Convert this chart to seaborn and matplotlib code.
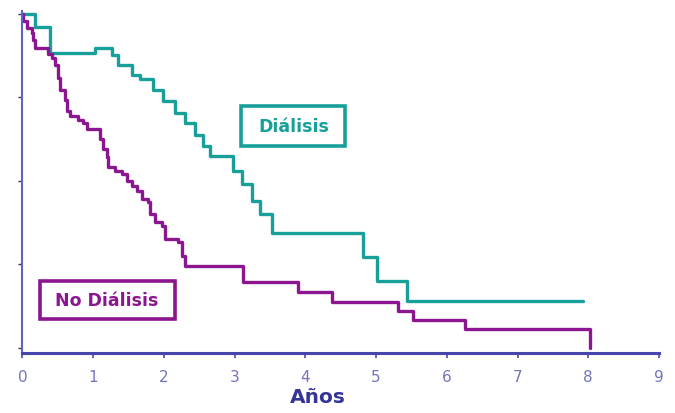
import matplotlib
matplotlib.use("Agg")
import matplotlib.pyplot as plt
import matplotlib.patches as mpatches
import seaborn as sns
import pandas as pd

# Kaplan-Meier style curves (years, survival fraction)
dialisis_t = [0.0, 0.18, 0.39, 1.02, 1.27, 1.35, 1.55, 1.66, 1.85, 1.99, 2.16, 2.30,
              2.44, 2.55, 2.65, 2.98, 3.10, 3.25, 3.36, 3.53, 4.82, 5.01, 5.44, 7.93]
dialisis_s = [1.0, 0.962, 0.882, 0.897, 0.876, 0.846, 0.816, 0.804, 0.771, 0.738, 0.702, 0.672,
              0.639, 0.606, 0.576, 0.531, 0.492, 0.441, 0.402, 0.345, 0.273, 0.201, 0.141, 0.141]

no_dialisis_t = [0.0, 0.01, 0.06, 0.13, 0.15, 0.18, 0.36, 0.42, 0.46, 0.50, 0.53, 0.60,
                 0.63, 0.67, 0.79, 0.86, 0.91, 1.10, 1.14, 1.20, 1.21, 1.31, 1.41, 1.48,
                 1.55, 1.62, 1.69, 1.78, 1.80, 1.87, 1.97, 2.02, 2.20, 2.26, 2.30, 3.12,
                 3.90, 4.38, 5.31, 5.52, 6.26, 8.03]
no_dialisis_s = [1.0, 0.980, 0.957, 0.942, 0.921, 0.897, 0.879, 0.867, 0.846, 0.807, 0.771, 0.741,
                 0.708, 0.693, 0.681, 0.672, 0.657, 0.627, 0.597, 0.573, 0.543, 0.531, 0.522, 0.501,
                 0.486, 0.471, 0.447, 0.438, 0.402, 0.378, 0.366, 0.327, 0.318, 0.276, 0.246, 0.198,
                 0.168, 0.138, 0.111, 0.084, 0.057, 0.0]

x_ticks = [0, 1, 2, 3, 4, 5, 6, 7, 8, 9]
y_ticks = [0, 0.25, 0.5, 0.75, 1.0]

teal = "#17a09a"
purple = "#8c1590"
axis_blue = "#4646ac"
tick_blue = "#7474bc"

df = pd.concat([
    pd.DataFrame({"t": dialisis_t, "s": dialisis_s, "grupo": "Diálisis"}),
    pd.DataFrame({"t": no_dialisis_t, "s": no_dialisis_s, "grupo": "No Diálisis"}),
])

sns.set_style("white")
plt.rcParams["font.family"] = ["DejaVu Sans"]

fig = plt.figure(figsize=(6.75, 4.14), dpi=100)
ax = fig.add_axes([0.0333, 0.145, 0.943, 0.827])

sns.lineplot(data=df, x="t", y="s", hue="grupo", estimator=None, sort=False,
             drawstyle="steps-post", palette={"Diálisis": teal, "No Diálisis": purple},
             linewidth=2.4, legend=False, ax=ax)

ax.set_xlim(0, 9)
ax.set_ylim(-0.015, 1.01)
ax.set_xticks(x_ticks)
ax.set_yticks(y_ticks)
ax.set_yticklabels([])
ax.tick_params(axis="x", direction="out", length=3.5, width=1.2, color=axis_blue,
               labelcolor=tick_blue, labelsize=11, pad=8, bottom=True)
ax.tick_params(axis="y", direction="out", length=3, width=1.0, color="#333366", left=True)

for side in ["top", "right"]:
    ax.spines[side].set_visible(False)
ax.spines["bottom"].set_color(axis_blue)
ax.spines["bottom"].set_linewidth(2.2)
ax.spines["left"].set_color("#6262c4")
ax.spines["left"].set_linewidth(1.5)

ax.set_xlabel("Años", fontsize=14.5, fontweight="bold", color="#353599")
ax.xaxis.set_label_coords(0.464, -0.10)
ax.set_ylabel("")

# boxed curve labels
box1 = mpatches.Rectangle((0.3435, 0.605), 0.163, 0.117, transform=ax.transAxes,
                          fill=False, edgecolor=teal, linewidth=2.6)
ax.add_patch(box1)
ax.text(0.4265, 0.663, "Diálisis", transform=ax.transAxes, ha="center", va="center",
        fontsize=12.5, fontweight="bold", color=teal)

box2 = mpatches.Rectangle((0.0275, 0.10), 0.212, 0.111, transform=ax.transAxes,
                          fill=False, edgecolor=purple, linewidth=2.6)
ax.add_patch(box2)
ax.text(0.133, 0.155, "No Diálisis", transform=ax.transAxes, ha="center", va="center",
        fontsize=12.5, fontweight="bold", color=purple)

fig.savefig("out.png", dpi=100)
